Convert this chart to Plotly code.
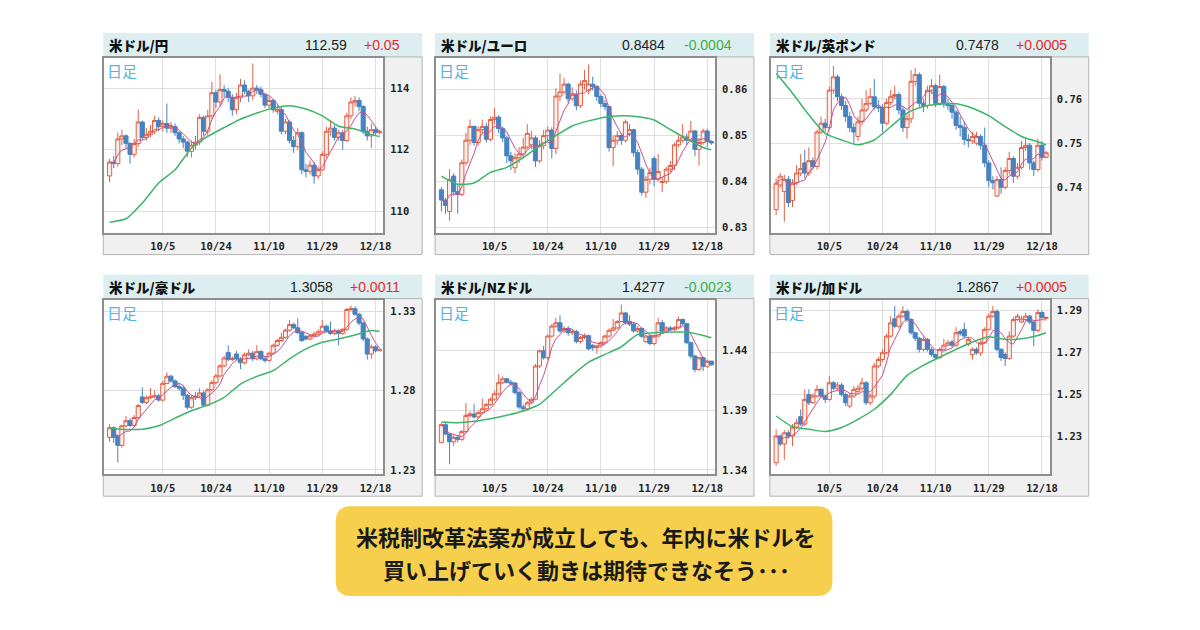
import pandas as pd
import plotly.graph_objects as go

# trading days shown on every panel
dates = [
    "2017-09-18", "2017-09-19", "2017-09-20", "2017-09-21", "2017-09-22",
    "2017-09-25", "2017-09-26", "2017-09-27", "2017-09-28", "2017-09-29",
    "2017-10-02", "2017-10-03", "2017-10-04", "2017-10-05", "2017-10-06",
    "2017-10-09", "2017-10-10", "2017-10-11", "2017-10-12", "2017-10-13",
    "2017-10-16", "2017-10-17", "2017-10-18", "2017-10-19", "2017-10-20",
    "2017-10-23", "2017-10-24", "2017-10-25", "2017-10-26", "2017-10-27",
    "2017-10-30", "2017-10-31", "2017-11-01", "2017-11-02", "2017-11-03",
    "2017-11-06", "2017-11-07", "2017-11-08", "2017-11-09", "2017-11-10",
    "2017-11-13", "2017-11-14", "2017-11-15", "2017-11-16", "2017-11-17",
    "2017-11-20", "2017-11-21", "2017-11-22", "2017-11-23", "2017-11-24",
    "2017-11-27", "2017-11-28", "2017-11-29", "2017-11-30", "2017-12-01",
    "2017-12-04", "2017-12-05", "2017-12-06", "2017-12-07", "2017-12-08",
    "2017-12-11", "2017-12-12", "2017-12-13", "2017-12-14", "2017-12-15",
    "2017-12-18", "2017-12-19",
]
tick_dates = ["2017-10-05", "2017-10-24", "2017-11-10", "2017-11-29", "2017-12-18"]
tick_labels = ["10/5", "10/24", "11/10", "11/29", "12/18"]

pairs = ["米ドル/円", "米ドル/ユーロ", "米ドル/英ポンド", "米ドル/豪ドル", "米ドル/NZドル", "米ドル/加ドル"]
last_prices = ["112.59", "0.8484", "0.7478", "1.3058", "1.4277", "1.2867"]
changes = ["+0.05", "-0.0004", "+0.0005", "+0.0011", "-0.0023", "+0.0005"]

y_ticks = [[110, 112, 114], [0.83, 0.84, 0.85, 0.86], [0.74, 0.75, 0.76],
           [1.23, 1.28, 1.33], [1.34, 1.39, 1.44], [1.23, 1.25, 1.27, 1.29]]
y_ranges = [[109.31, 114.98], [0.8289, 0.8669], [0.7297, 0.7693],
            [1.2273, 1.3373], [1.3364, 1.4822], [1.2121, 1.2952]]

# USD/JPY
jpy_open = [
    111.15, 111.60, 111.55, 112.35, 112.45, 112.20, 111.85, 112.20, 112.90, 112.40,
    112.50, 112.60, 112.95, 112.75, 112.85, 112.70, 112.75, 112.55, 112.35, 112.25,
    111.95, 112.15, 112.25, 113.05, 112.60, 113.10, 113.85, 113.55, 113.95, 113.90,
    113.70, 113.30, 113.70, 114.10, 113.90, 113.75, 114.00, 113.95, 113.80, 113.45,
    113.60, 113.25, 113.30, 112.60, 112.90, 112.30, 112.10, 112.55, 111.35, 111.30,
    111.50, 111.15, 111.35, 111.85, 112.60, 112.70, 112.40, 112.55, 112.30, 113.10,
    113.55, 113.60, 113.40, 112.60, 112.45, 112.65, 112.55]
jpy_high = [
    111.70, 111.80, 112.55, 112.65, 112.50, 112.25, 112.35, 113.30, 112.95, 112.70,
    112.80, 113.10, 113.05, 112.95, 113.50, 112.90, 112.85, 112.60, 112.45, 112.30,
    112.30, 112.45, 113.15, 113.10, 113.30, 114.20, 113.95, 114.45, 114.10, 114.00,
    113.80, 113.85, 114.30, 114.25, 113.95, 114.80, 114.10, 114.05, 113.85, 113.75,
    113.65, 113.45, 113.40, 113.00, 112.95, 112.45, 112.70, 112.60, 111.55, 111.65,
    111.60, 111.45, 111.95, 112.75, 112.95, 112.80, 112.65, 112.65, 113.20, 113.70,
    113.75, 113.70, 113.45, 112.75, 112.85, 112.75, 112.65]
jpy_low = [
    110.95, 111.40, 111.45, 112.15, 112.05, 111.55, 111.75, 112.10, 112.30, 112.30,
    112.40, 112.50, 112.60, 112.60, 112.55, 112.55, 112.45, 112.20, 112.05, 111.75,
    111.75, 112.00, 112.15, 112.45, 112.45, 113.00, 113.35, 113.40, 113.70, 113.55,
    113.10, 113.15, 113.55, 113.80, 113.55, 113.60, 113.80, 113.70, 113.35, 113.35,
    113.20, 113.15, 112.50, 112.50, 112.20, 111.90, 112.00, 111.20, 111.10, 111.20,
    110.90, 111.05, 111.30, 111.75, 112.45, 112.30, 112.30, 112.00, 112.25, 113.00,
    113.40, 113.25, 112.50, 112.30, 112.05, 112.45, 112.50]
jpy_close = [
    111.60, 111.55, 112.35, 112.45, 112.20, 111.85, 112.20, 112.90, 112.40, 112.50,
    112.60, 112.95, 112.75, 112.85, 112.70, 112.75, 112.55, 112.35, 112.25, 111.95,
    112.15, 112.25, 113.05, 112.60, 113.10, 113.85, 113.55, 113.95, 113.90, 113.70,
    113.30, 113.70, 114.10, 113.90, 113.75, 114.00, 113.95, 113.80, 113.45, 113.60,
    113.30, 113.30, 112.60, 112.90, 112.30, 112.10, 112.55, 111.35, 111.30, 111.50,
    111.15, 111.35, 111.85, 112.60, 112.70, 112.40, 112.55, 112.30, 113.10, 113.55,
    113.60, 113.40, 112.60, 112.45, 112.65, 112.55, 112.59]

# USD/EUR
eur_open = [
    0.8382, 0.8360, 0.8335, 0.8412, 0.8378, 0.8372, 0.8441, 0.8490, 0.8520, 0.8485,
    0.8513, 0.8520, 0.8492, 0.8535, 0.8540, 0.8515, 0.8495, 0.8456, 0.8430, 0.8452,
    0.8460, 0.8475, 0.8480, 0.8495, 0.8445, 0.8478, 0.8500, 0.8512, 0.8472, 0.8586,
    0.8595, 0.8612, 0.8580, 0.8590, 0.8565, 0.8612, 0.8598, 0.8612, 0.8607, 0.8585,
    0.8570, 0.8563, 0.8474, 0.8490, 0.8500, 0.8490, 0.8505, 0.8513, 0.8463, 0.8427,
    0.8377, 0.8405, 0.8450, 0.8405, 0.8398, 0.8400, 0.8427, 0.8435, 0.8480, 0.8490,
    0.8497, 0.8490, 0.8510, 0.8470, 0.8485, 0.8510, 0.8487]
eur_high = [
    0.8388, 0.8365, 0.8427, 0.8418, 0.8395, 0.8448, 0.8506, 0.8535, 0.8522, 0.8520,
    0.8535, 0.8528, 0.8542, 0.8560, 0.8545, 0.8520, 0.8500, 0.8465, 0.8462, 0.8475,
    0.8495, 0.8525, 0.8510, 0.8500, 0.8490, 0.8512, 0.8520, 0.8518, 0.8603, 0.8635,
    0.8625, 0.8615, 0.8605, 0.8598, 0.8620, 0.8643, 0.8655, 0.8628, 0.8610, 0.8590,
    0.8578, 0.8565, 0.8500, 0.8510, 0.8505, 0.8535, 0.8525, 0.8515, 0.8470, 0.8432,
    0.8412, 0.8430, 0.8455, 0.8460, 0.8410, 0.8432, 0.8445, 0.8485, 0.8500, 0.8525,
    0.8505, 0.8532, 0.8512, 0.8495, 0.8515, 0.8515, 0.8490]
eur_low = [
    0.8335, 0.8330, 0.8315, 0.8370, 0.8330, 0.8368, 0.8435, 0.8480, 0.8478, 0.8478,
    0.8505, 0.8485, 0.8488, 0.8525, 0.8505, 0.8485, 0.8440, 0.8425, 0.8418, 0.8440,
    0.8450, 0.8470, 0.8470, 0.8432, 0.8440, 0.8470, 0.8490, 0.8450, 0.8460, 0.8575,
    0.8590, 0.8570, 0.8575, 0.8555, 0.8560, 0.8600, 0.8590, 0.8598, 0.8575, 0.8562,
    0.8555, 0.8465, 0.8434, 0.8480, 0.8480, 0.8485, 0.8498, 0.8455, 0.8415, 0.8370,
    0.8365, 0.8395, 0.8390, 0.8400, 0.8377, 0.8395, 0.8420, 0.8425, 0.8475, 0.8485,
    0.8480, 0.8485, 0.8455, 0.8435, 0.8480, 0.8475, 0.8480]
eur_close = [
    0.8360, 0.8348, 0.8405, 0.8378, 0.8372, 0.8441, 0.8490, 0.8520, 0.8485, 0.8513,
    0.8520, 0.8492, 0.8535, 0.8540, 0.8515, 0.8495, 0.8456, 0.8445, 0.8452, 0.8460,
    0.8475, 0.8505, 0.8495, 0.8445, 0.8478, 0.8500, 0.8512, 0.8472, 0.8586, 0.8595,
    0.8612, 0.8580, 0.8590, 0.8565, 0.8612, 0.8620, 0.8612, 0.8607, 0.8585, 0.8570,
    0.8563, 0.8474, 0.8490, 0.8500, 0.8490, 0.8530, 0.8513, 0.8463, 0.8427, 0.8377,
    0.8405, 0.8420, 0.8405, 0.8422, 0.8400, 0.8427, 0.8435, 0.8480, 0.8490, 0.8497,
    0.8490, 0.8510, 0.8470, 0.8485, 0.8510, 0.8487, 0.8484]

# USD/GBP
gbp_open = [
    0.7349, 0.7405, 0.7390, 0.7418, 0.7370, 0.7410, 0.7432, 0.7455, 0.7432, 0.7460,
    0.7447, 0.7525, 0.7545, 0.7535, 0.7620, 0.7650, 0.7605, 0.7585, 0.7560, 0.7535,
    0.7515, 0.7548, 0.7575, 0.7590, 0.7605, 0.7582, 0.7580, 0.7545, 0.7592, 0.7605,
    0.7610, 0.7575, 0.7535, 0.7555, 0.7640, 0.7655, 0.7590, 0.7585, 0.7620, 0.7630,
    0.7590, 0.7628, 0.7590, 0.7585, 0.7570, 0.7540, 0.7535, 0.7508, 0.7505, 0.7500,
    0.7515, 0.7495, 0.7455, 0.7415, 0.7380, 0.7417, 0.7400, 0.7438, 0.7465, 0.7425,
    0.7445, 0.7490, 0.7495, 0.7455, 0.7440, 0.7495, 0.7468]
gbp_high = [
    0.7420, 0.7432, 0.7428, 0.7425, 0.7418, 0.7450, 0.7475, 0.7485, 0.7490, 0.7468,
    0.7530, 0.7560, 0.7555, 0.7628, 0.7675, 0.7655, 0.7612, 0.7595, 0.7570, 0.7545,
    0.7560, 0.7600, 0.7620, 0.7625, 0.7645, 0.7598, 0.7588, 0.7600, 0.7620, 0.7630,
    0.7615, 0.7582, 0.7565, 0.7665, 0.7670, 0.7660, 0.7600, 0.7630, 0.7645, 0.7635,
    0.7655, 0.7632, 0.7600, 0.7592, 0.7575, 0.7560, 0.7548, 0.7520, 0.7525, 0.7525,
    0.7520, 0.7535, 0.7462, 0.7425, 0.7425, 0.7445, 0.7445, 0.7480, 0.7470, 0.7455,
    0.7505, 0.7510, 0.7500, 0.7460, 0.7510, 0.7505, 0.7482]
gbp_low = [
    0.7337, 0.7400, 0.7322, 0.7355, 0.7355, 0.7405, 0.7425, 0.7420, 0.7425, 0.7440,
    0.7440, 0.7520, 0.7525, 0.7530, 0.7612, 0.7595, 0.7575, 0.7548, 0.7525, 0.7500,
    0.7505, 0.7540, 0.7570, 0.7585, 0.7575, 0.7570, 0.7525, 0.7540, 0.7585, 0.7598,
    0.7565, 0.7525, 0.7510, 0.7545, 0.7630, 0.7582, 0.7570, 0.7578, 0.7612, 0.7582,
    0.7585, 0.7580, 0.7575, 0.7555, 0.7530, 0.7515, 0.7495, 0.7490, 0.7498, 0.7495,
    0.7485, 0.7445, 0.7400, 0.7395, 0.7378, 0.7385, 0.7395, 0.7430, 0.7410, 0.7418,
    0.7440, 0.7482, 0.7440, 0.7425, 0.7435, 0.7460, 0.7465]
gbp_close = [
    0.7409, 0.7425, 0.7418, 0.7365, 0.7410, 0.7432, 0.7442, 0.7432, 0.7460, 0.7447,
    0.7525, 0.7545, 0.7535, 0.7620, 0.7650, 0.7605, 0.7585, 0.7560, 0.7535, 0.7525,
    0.7548, 0.7575, 0.7590, 0.7605, 0.7582, 0.7580, 0.7545, 0.7592, 0.7605, 0.7610,
    0.7575, 0.7535, 0.7555, 0.7640, 0.7655, 0.7590, 0.7585, 0.7620, 0.7630, 0.7590,
    0.7628, 0.7590, 0.7585, 0.7570, 0.7540, 0.7535, 0.7508, 0.7505, 0.7515, 0.7515,
    0.7495, 0.7455, 0.7415, 0.7410, 0.7417, 0.7400, 0.7438, 0.7465, 0.7425, 0.7445,
    0.7490, 0.7495, 0.7455, 0.7440, 0.7495, 0.7468, 0.7478]

# USD/AUD
aud_open = [
    1.2505, 1.2566, 1.2515, 1.2455, 1.2578, 1.2610, 1.2580, 1.2630, 1.2760, 1.2725,
    1.2755, 1.2760, 1.2767, 1.2740, 1.2845, 1.2890, 1.2860, 1.2825, 1.2815, 1.2770,
    1.2695, 1.2755, 1.2765, 1.2785, 1.2708, 1.2805, 1.2850, 1.2892, 1.2955, 1.3040,
    1.2995, 1.3030, 1.3000, 1.2975, 1.3025, 1.3035, 1.3000, 1.3045, 1.3000, 1.2990,
    1.3035, 1.3085, 1.3115, 1.3135, 1.3180, 1.3215, 1.3195, 1.3165, 1.3140, 1.3125,
    1.3145, 1.3155, 1.3170, 1.3205, 1.3175, 1.3160, 1.3175, 1.3160, 1.3185, 1.3310,
    1.3315, 1.3280, 1.3225, 1.3125, 1.3030, 1.3075, 1.3050]
aud_high = [
    1.2588, 1.2575, 1.2525, 1.2585, 1.2640, 1.2625, 1.2645, 1.2715, 1.2820, 1.2770,
    1.2815, 1.2800, 1.2780, 1.2860, 1.2915, 1.2900, 1.2870, 1.2840, 1.2830, 1.2780,
    1.2770, 1.2790, 1.2815, 1.2800, 1.2815, 1.2865, 1.2905, 1.2965, 1.3020, 1.3085,
    1.3015, 1.3050, 1.3010, 1.3040, 1.3060, 1.3050, 1.3085, 1.3055, 1.3015, 1.3045,
    1.3095, 1.3125, 1.3165, 1.3190, 1.3245, 1.3225, 1.3255, 1.3175, 1.3150, 1.3155,
    1.3170, 1.3185, 1.3245, 1.3215, 1.3235, 1.3190, 1.3185, 1.3195, 1.3320, 1.3335,
    1.3330, 1.3290, 1.3235, 1.3135, 1.3090, 1.3085, 1.3065]
aud_low = [
    1.2478, 1.2470, 1.2346, 1.2440, 1.2570, 1.2570, 1.2570, 1.2620, 1.2715, 1.2715,
    1.2745, 1.2750, 1.2730, 1.2730, 1.2840, 1.2850, 1.2815, 1.2800, 1.2740, 1.2680,
    1.2685, 1.2740, 1.2755, 1.2695, 1.2700, 1.2795, 1.2840, 1.2880, 1.2945, 1.2985,
    1.2985, 1.2990, 1.2935, 1.2965, 1.3015, 1.2985, 1.2990, 1.2990, 1.2975, 1.2980,
    1.3025, 1.3075, 1.3105, 1.3125, 1.3170, 1.3185, 1.3155, 1.3105, 1.3115, 1.3115,
    1.3135, 1.3145, 1.3160, 1.3165, 1.3150, 1.3150, 1.3085, 1.3150, 1.3175, 1.3300,
    1.3270, 1.3210, 1.3110, 1.2995, 1.3000, 1.3040, 1.3048]
aud_close = [
    1.2566, 1.2505, 1.2455, 1.2578, 1.2610, 1.2580, 1.2630, 1.2705, 1.2725, 1.2755,
    1.2760, 1.2767, 1.2740, 1.2845, 1.2890, 1.2860, 1.2825, 1.2815, 1.2770, 1.2695,
    1.2755, 1.2765, 1.2785, 1.2708, 1.2805, 1.2850, 1.2892, 1.2955, 1.3005, 1.2995,
    1.3002, 1.3000, 1.2975, 1.3025, 1.3035, 1.3000, 1.3045, 1.3000, 1.2990, 1.3035,
    1.3085, 1.3115, 1.3135, 1.3180, 1.3215, 1.3195, 1.3165, 1.3115, 1.3125, 1.3145,
    1.3155, 1.3170, 1.3205, 1.3175, 1.3160, 1.3175, 1.3160, 1.3185, 1.3310, 1.3315,
    1.3280, 1.3225, 1.3125, 1.3030, 1.3075, 1.3050, 1.3058]

# USD/NZD
nzd_open = [
    1.3628, 1.3778, 1.3700, 1.3635, 1.3672, 1.3655, 1.3720, 1.3855, 1.3867, 1.3842,
    1.3878, 1.3910, 1.3945, 1.3990, 1.4035, 1.4128, 1.4160, 1.4132, 1.4125, 1.4045,
    1.3925, 1.3910, 1.3960, 1.3990, 1.4267, 1.4394, 1.4336, 1.4517, 1.4600, 1.4628,
    1.4560, 1.4580, 1.4545, 1.4555, 1.4472, 1.4505, 1.4520, 1.4440, 1.4420, 1.4435,
    1.4462, 1.4517, 1.4565, 1.4585, 1.4638, 1.4710, 1.4640, 1.4617, 1.4560, 1.4580,
    1.4470, 1.4517, 1.4455, 1.4517, 1.4628, 1.4560, 1.4585, 1.4570, 1.4585, 1.4655,
    1.4620, 1.4462, 1.4350, 1.4239, 1.4336, 1.4265, 1.4308]
nzd_high = [
    1.3790, 1.3800, 1.3710, 1.3690, 1.3690, 1.3735, 1.3958, 1.3890, 1.3950, 1.3895,
    1.3995, 1.3960, 1.4005, 1.4060, 1.4200, 1.4180, 1.4170, 1.4150, 1.4130, 1.4060,
    1.3945, 1.3975, 1.4005, 1.4285, 1.4405, 1.4435, 1.4530, 1.4620, 1.4670, 1.4690,
    1.4600, 1.4600, 1.4575, 1.4570, 1.4520, 1.4540, 1.4530, 1.4450, 1.4445, 1.4475,
    1.4530, 1.4580, 1.4660, 1.4650, 1.4780, 1.4720, 1.4690, 1.4630, 1.4600, 1.4590,
    1.4530, 1.4525, 1.4530, 1.4670, 1.4650, 1.4600, 1.4600, 1.4600, 1.4680, 1.4665,
    1.4625, 1.4470, 1.4360, 1.4345, 1.4345, 1.4320, 1.4310]
nzd_low = [
    1.3625, 1.3690, 1.3447, 1.3600, 1.3630, 1.3640, 1.3710, 1.3835, 1.3830, 1.3830,
    1.3865, 1.3895, 1.3935, 1.3975, 1.4020, 1.4115, 1.4120, 1.4100, 1.4030, 1.3910,
    1.3890, 1.3895, 1.3945, 1.3980, 1.4250, 1.4320, 1.4320, 1.4505, 1.4585, 1.4545,
    1.4540, 1.4520, 1.4525, 1.4455, 1.4455, 1.4490, 1.4400, 1.4395, 1.4370, 1.4420,
    1.4450, 1.4505, 1.4555, 1.4575, 1.4630, 1.4615, 1.4600, 1.4545, 1.4545, 1.4500,
    1.4460, 1.4440, 1.4440, 1.4505, 1.4545, 1.4550, 1.4560, 1.4560, 1.4575, 1.4605,
    1.4450, 1.4330, 1.4215, 1.4225, 1.4225, 1.4250, 1.4270]
nzd_close = [
    1.3778, 1.3700, 1.3635, 1.3672, 1.3655, 1.3720, 1.3855, 1.3867, 1.3842, 1.3878,
    1.3910, 1.3945, 1.3990, 1.4035, 1.4128, 1.4160, 1.4132, 1.4125, 1.4045, 1.3925,
    1.3910, 1.3960, 1.3990, 1.4267, 1.4394, 1.4336, 1.4517, 1.4600, 1.4628, 1.4560,
    1.4580, 1.4545, 1.4555, 1.4472, 1.4505, 1.4520, 1.4410, 1.4420, 1.4435, 1.4462,
    1.4517, 1.4565, 1.4585, 1.4638, 1.4710, 1.4628, 1.4617, 1.4560, 1.4580, 1.4515,
    1.4517, 1.4455, 1.4517, 1.4628, 1.4560, 1.4585, 1.4570, 1.4585, 1.4655, 1.4620,
    1.4462, 1.4350, 1.4239, 1.4336, 1.4265, 1.4308, 1.4277]

# USD/CAD
cad_open = [
    1.2176, 1.2303, 1.2265, 1.2318, 1.2303, 1.2345, 1.2395, 1.2360, 1.2500, 1.2461,
    1.2493, 1.2525, 1.2493, 1.2477, 1.2556, 1.2530, 1.2545, 1.2500, 1.2445, 1.2493,
    1.2515, 1.2530, 1.2556, 1.2461, 1.2493, 1.2636, 1.2667, 1.2699, 1.2778, 1.2860,
    1.2825, 1.2873, 1.2895, 1.2857, 1.2794, 1.2768, 1.2715, 1.2762, 1.2715, 1.2690,
    1.2676, 1.2715, 1.2735, 1.2750, 1.2735, 1.2800, 1.2810, 1.2740, 1.2690, 1.2715,
    1.2698, 1.2746, 1.2810, 1.2873, 1.2895, 1.2715, 1.2690, 1.2672, 1.2778, 1.2857,
    1.2845, 1.2857, 1.2873, 1.2845, 1.2805, 1.2890, 1.2862]
cad_high = [
    1.2335, 1.2310, 1.2330, 1.2330, 1.2360, 1.2385, 1.2430, 1.2525, 1.2525, 1.2505,
    1.2545, 1.2530, 1.2500, 1.2588, 1.2565, 1.2560, 1.2555, 1.2510, 1.2505, 1.2540,
    1.2545, 1.2580, 1.2565, 1.2505, 1.2650, 1.2680, 1.2715, 1.2790, 1.2873, 1.2921,
    1.2885, 1.2920, 1.2905, 1.2865, 1.2800, 1.2775, 1.2775, 1.2770, 1.2725, 1.2695,
    1.2725, 1.2765, 1.2760, 1.2760, 1.2820, 1.2810, 1.2841, 1.2775, 1.2725, 1.2725,
    1.2760, 1.2820, 1.2885, 1.2921, 1.2905, 1.2720, 1.2700, 1.2800, 1.2870, 1.2885,
    1.2875, 1.2889, 1.2880, 1.2850, 1.2905, 1.2898, 1.2872]
cad_low = [
    1.2160, 1.2255, 1.2190, 1.2290, 1.2255, 1.2335, 1.2350, 1.2350, 1.2450, 1.2455,
    1.2485, 1.2485, 1.2460, 1.2470, 1.2520, 1.2520, 1.2490, 1.2445, 1.2435, 1.2485,
    1.2505, 1.2520, 1.2450, 1.2450, 1.2480, 1.2625, 1.2655, 1.2690, 1.2770, 1.2815,
    1.2815, 1.2865, 1.2845, 1.2785, 1.2755, 1.2700, 1.2705, 1.2705, 1.2680, 1.2665,
    1.2670, 1.2710, 1.2730, 1.2725, 1.2725, 1.2780, 1.2770, 1.2730, 1.2667, 1.2690,
    1.2683, 1.2740, 1.2805, 1.2865, 1.2705, 1.2660, 1.2636, 1.2665, 1.2770, 1.2850,
    1.2840, 1.2850, 1.2835, 1.2730, 1.2795, 1.2860, 1.2860]
cad_close = [
    1.2303, 1.2265, 1.2318, 1.2303, 1.2345, 1.2366, 1.2360, 1.2477, 1.2461, 1.2493,
    1.2525, 1.2493, 1.2477, 1.2556, 1.2530, 1.2545, 1.2500, 1.2461, 1.2493, 1.2525,
    1.2530, 1.2556, 1.2461, 1.2493, 1.2636, 1.2667, 1.2699, 1.2778, 1.2841, 1.2825,
    1.2873, 1.2895, 1.2857, 1.2794, 1.2768, 1.2715, 1.2762, 1.2715, 1.2690, 1.2676,
    1.2715, 1.2735, 1.2746, 1.2735, 1.2794, 1.2790, 1.2778, 1.2762, 1.2715, 1.2698,
    1.2746, 1.2810, 1.2873, 1.2895, 1.2715, 1.2676, 1.2672, 1.2778, 1.2857, 1.2873,
    1.2860, 1.2873, 1.2845, 1.2805, 1.2890, 1.2867, 1.2867]

# long moving average at these candle positions
ma_idx = [0, 4, 8, 12, 16, 20, 24, 28, 32, 36, 40, 44, 48, 52, 56, 60, 64, 66]
jpy_ma = [109.65, 109.76, 110.27, 110.92, 111.35, 112.05, 112.43, 112.72, 112.99,
          113.19, 113.35, 113.43, 113.32, 113.10, 112.76, 112.67, 112.49, 112.43]
eur_ma = [0.8412, 0.8394, 0.8397, 0.8420, 0.8431, 0.8452, 0.8477, 0.8500, 0.8521,
          0.8532, 0.8540, 0.8543, 0.8541, 0.8534, 0.8513, 0.8493, 0.8474, 0.8469]
gbp_ma = [0.7658, 0.7613, 0.7564, 0.7522, 0.7507, 0.7496, 0.7507, 0.7537, 0.7568,
          0.7583, 0.7588, 0.7589, 0.7579, 0.7562, 0.7537, 0.7515, 0.7503, 0.7496]
aud_ma = [1.2563, 1.2555, 1.2557, 1.2578, 1.2626, 1.2673, 1.2708, 1.2757, 1.2841,
          1.2889, 1.2925, 1.2999, 1.3062, 1.3104, 1.3125, 1.3150, 1.3178, 1.3172]
nzd_ma = [1.3800, 1.3794, 1.3806, 1.3828, 1.3856, 1.3892, 1.3947, 1.4067, 1.4189,
          1.4300, 1.4364, 1.4428, 1.4531, 1.4544, 1.4550, 1.4550, 1.4522, 1.4503]
cad_ma = [1.2398, 1.2347, 1.2335, 1.2324, 1.2343, 1.2382, 1.2430, 1.2501, 1.2591,
          1.2639, 1.2678, 1.2715, 1.2750, 1.2775, 1.2762, 1.2765, 1.2781, 1.2794]

panels = [
    (jpy_open, jpy_high, jpy_low, jpy_close, jpy_ma),
    (eur_open, eur_high, eur_low, eur_close, eur_ma),
    (gbp_open, gbp_high, gbp_low, gbp_close, gbp_ma),
    (aud_open, aud_high, aud_low, aud_close, aud_ma),
    (nzd_open, nzd_high, nzd_low, nzd_close, nzd_ma),
    (cad_open, cad_high, cad_low, cad_close, cad_ma),
]

W, H = 1200, 630
col_x = [104, 438, 775]
row_y = [33, 275]

UP = "#e25f45"
DOWN = "#4683c0"


def px(x):
    return x / W


def py(y):
    return 1 - y / H


fig = go.Figure()
shapes = []
annotations = []
layout_axes = {}

tick_font = dict(family="DejaVu Sans Mono", size=10.5, color="#222", weight="bold")

for k, (o, h, l, c, ma) in enumerate(panels):
    x0 = col_x[k % 3]
    top = row_y[k // 3]
    suffix = "" if k == 0 else str(k + 1)

    # header strip, grey frame and white plotting area
    shapes.append(dict(type="rect", xref="paper", yref="paper", layer="below",
                       x0=px(x0), x1=px(x0 + 321), y0=py(top + 24), y1=py(top),
                       fillcolor="#dceef0", line=dict(width=0)))
    shapes.append(dict(type="rect", xref="paper", yref="paper", layer="below",
                       x0=px(x0), x1=px(x0 + 321), y0=py(top + 222), y1=py(top + 24),
                       fillcolor="#f0f0f0", line=dict(color="#b4b4b4", width=1)))
    shapes.append(dict(type="rect", xref="paper", yref="paper", layer="below",
                       x0=px(x0 + 1), x1=px(x0 + 282), y0=py(top + 200), y1=py(top + 25),
                       fillcolor="white", line=dict(width=0)))

    annotations.append(dict(xref="paper", yref="paper", x=px(x0 + 4), y=py(top + 12),
                            xanchor="left", yanchor="middle", showarrow=False, text=pairs[k],
                            font=dict(family="Noto Sans CJK JP", size=13.5, color="#111", weight=900)))
    chg_color = "#e8262a" if changes[k].startswith("+") else "#3cae48"
    annotations.append(dict(xref="paper", yref="paper", x=px(x0 + 301), y=py(top + 12),
                            xanchor="right", yanchor="middle", showarrow=False, text=changes[k],
                            font=dict(family="Liberation Sans", size=14, color=chg_color)))
    chg_w = 7.0 * len(changes[k]) - 3
    annotations.append(dict(xref="paper", yref="paper", x=px(x0 + 301 - chg_w - 22), y=py(top + 12),
                            xanchor="right", yanchor="middle", showarrow=False, text=last_prices[k],
                            font=dict(family="Liberation Sans", size=14, color="#222")))
    annotations.append(dict(xref="paper", yref="paper", x=px(x0 + 2), y=py(top + 25),
                            xanchor="left", yanchor="top", showarrow=False, text="日足",
                            font=dict(family="Noto Sans CJK JP", size=15, color="#4fb3e6")))

    xa = "x" + suffix
    ya = "y" + suffix
    fig.add_trace(go.Candlestick(
        x=dates, open=o, high=h, low=l, close=c, xaxis=xa, yaxis=ya,
        increasing=dict(line=dict(color=UP, width=1), fillcolor="#fdf0ec"),
        decreasing=dict(line=dict(color=DOWN, width=1), fillcolor=DOWN),
        whiskerwidth=0, hoverinfo="skip", showlegend=False,
    ))
    short_ma = pd.Series(c).rolling(5, min_periods=1).mean()
    fig.add_trace(go.Scatter(x=dates, y=short_ma, mode="lines", xaxis=xa, yaxis=ya,
                             line=dict(color="#c4508e", width=1), hoverinfo="skip", showlegend=False))
    fig.add_trace(go.Scatter(x=[dates[i] for i in ma_idx], y=ma, mode="lines", xaxis=xa, yaxis=ya,
                             line=dict(color="#3cb46a", width=1.5, shape="spline", smoothing=0.6),
                             hoverinfo="skip", showlegend=False))

    fmt = ".0f" if k == 0 else ".2f"
    layout_axes["xaxis" + suffix] = dict(
        domain=[px(x0 + 1), px(x0 + 282)], anchor=ya, type="category",
        range=[-1.3, 66.95], tickvals=tick_dates, ticktext=tick_labels,
        showgrid=True, gridcolor="#dedede", gridwidth=1, zeroline=False,
        showline=True, mirror=True, linecolor="#8e8e8e", linewidth=1.5,
        ticks="", tickfont=tick_font, ticklabelstandoff=3,
        rangeslider=dict(visible=False), fixedrange=True,
    )
    layout_axes["yaxis" + suffix] = dict(
        domain=[py(top + 200), py(top + 25)], anchor=xa, side="right",
        range=y_ranges[k], tickvals=y_ticks[k], tickformat=fmt,
        showgrid=True, gridcolor="#dedede", gridwidth=1, zeroline=False,
        showline=True, mirror=True, linecolor="#8e8e8e", linewidth=1.5,
        ticks="", tickfont=tick_font, ticklabelstandoff=3, fixedrange=True,
    )

# yellow note under the charts
bx0, bx1, by0, by1, r = 338, 838, 507, 597, 15
path = (f"M {px(bx0 + r)},{py(by0)} L {px(bx1 - r)},{py(by0)} "
        f"Q {px(bx1)},{py(by0)} {px(bx1)},{py(by0 + r)} L {px(bx1)},{py(by1 - r)} "
        f"Q {px(bx1)},{py(by1)} {px(bx1 - r)},{py(by1)} L {px(bx0 + r)},{py(by1)} "
        f"Q {px(bx0)},{py(by1)} {px(bx0)},{py(by1 - r)} L {px(bx0)},{py(by0 + r)} "
        f"Q {px(bx0)},{py(by0)} {px(bx0 + r)},{py(by0)} Z")
shapes.append(dict(type="path", xref="paper", yref="paper", path=path,
                   fillcolor="#f6d04c", line=dict(width=0), layer="below"))
note_lines = ["米税制改革法案が成立しても、年内に米ドルを", "買い上げていく動きは期待できなそう･･･"]
for text, yc in zip(note_lines, [537, 570]):
    annotations.append(dict(xref="paper", yref="paper", x=px(590), y=py(yc),
                            xanchor="center", yanchor="middle", showarrow=False, text=text,
                            font=dict(family="Noto Sans CJK JP", size=22, color="#1a1a1a", weight="bold")))

fig.update_layout(
    width=W, height=H, margin=dict(l=0, r=0, t=0, b=0),
    paper_bgcolor="white", plot_bgcolor="white",
    shapes=shapes, annotations=annotations, showlegend=False,
    boxgap=0, boxgroupgap=0,
    **layout_axes,
)

fig.write_html("out.html", config={"displayModeBar": False},
               post_script="document.body.style.margin='0';")
